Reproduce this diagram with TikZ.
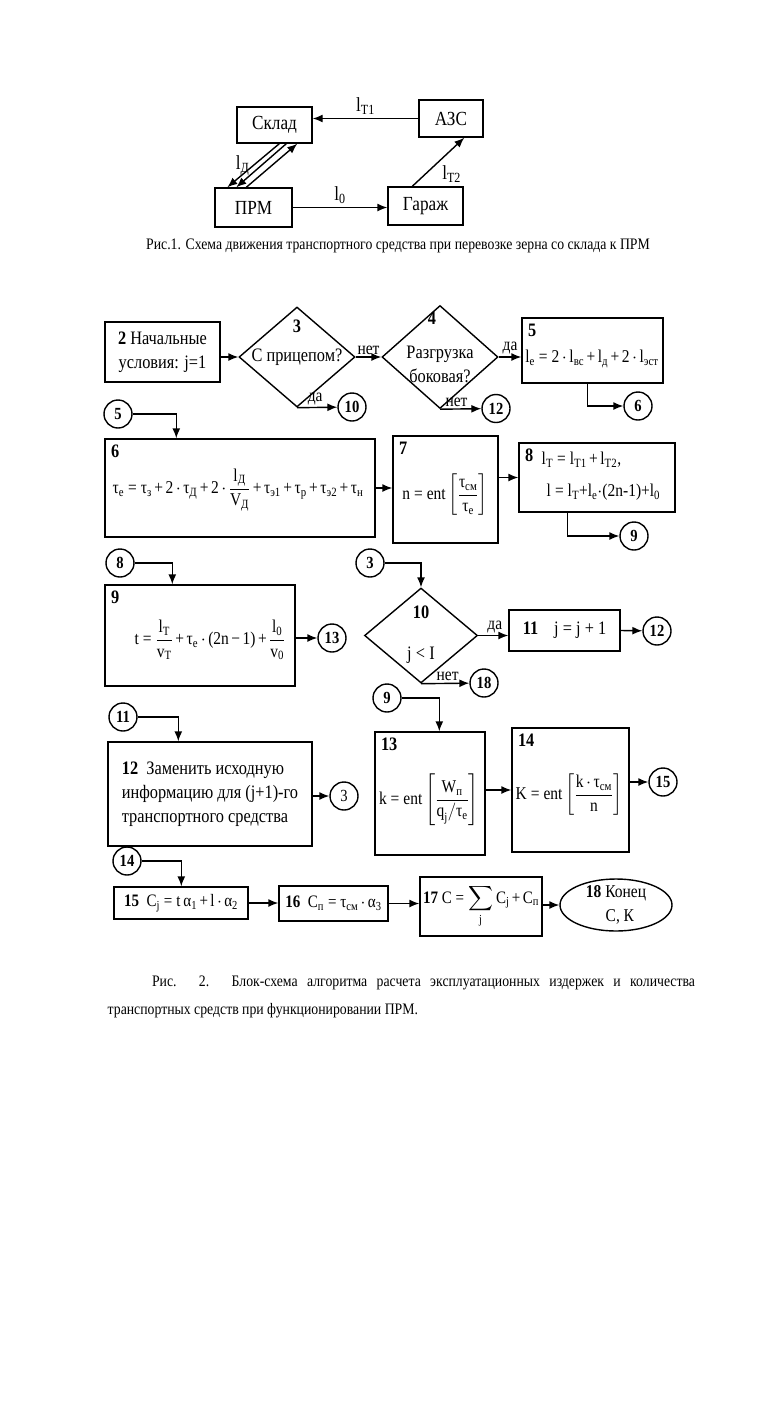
\RequirePackage{fix-cm}
\documentclass[tikz,border=0pt]{standalone}
\usepackage{amsmath}
\usepackage{fontspec}
\setmainfont{Liberation Serif}[FakeStretch=0.86]
\usetikzlibrary{shapes.geometric,arrows.meta}

\newcommand{\ix}[2]{\text{#1}_{\text{#2}}}
\newcommand{\tv}[1]{\text{τ}_{\text{#1}}}
\newcommand{\pls}{\mathbin{\text{+}}}
\newcommand{\mns}{\mathbin{\text{−}}}
\newcommand{\eqs}{\mathrel{\text{=}}}
\thickmuskip=4mu
\medmuskip=2.5mu

\begin{document}
\begin{tikzpicture}[x=1pt,y=-1pt,>={Latex[length=10pt,width=8pt]},line width=1.4pt,
    fig/.style={draw, inner sep=0pt, font=\fontsize{20}{24}\selectfont},
    blk/.style={draw, inner sep=0pt, font=\fontsize{19}{24}\selectfont},
    dia/.style={draw, diamond, inner sep=0pt},
    con/.style={draw, circle, minimum size=28pt, inner sep=0pt, font=\fontsize{17}{20}\selectfont\bfseries},
    num/.style={anchor=north west, inner sep=6pt, font=\fontsize{19}{24}\selectfont\bfseries},
    txt/.style={inner sep=1pt, font=\fontsize{19}{24}\selectfont},
    fml/.style={inner sep=1pt, font=\fontsize{18}{22}\selectfont},
    lab/.style={inner sep=2pt, font=\fontsize{18}{20}\selectfont},
    capt/.style={inner sep=0pt, font=\fontsize{16}{20}\selectfont}]
  \useasboundingbox (0,0) rectangle (756,1403);

  % Рис. 1
  \node (skl) [fig, minimum width=75, minimum height=36] at (274.5,125) {Склад};
  \node (azs) [fig, minimum width=64, minimum height=37] at (451,118.5) {АЗС};
  \node (prm) [fig, minimum width=77, minimum height=39] at (253.5,207.5) {ПРМ};
  \node (gar) [fig, minimum width=75, minimum height=38] at (425.5,206) {Гараж};
  \draw[->] (azs.west) -- node[above, font=\fontsize{20}{24}\selectfont]{$\ix{l}{Т1}$} (azs.west -| skl.east);
  \draw[->] (prm.east) -- node[above, font=\fontsize{20}{24}\selectfont]{$\ix{l}{0}$} (prm.east -| gar.west);
  \draw[->] ([xshift=25]gar.north west) -- node[below right, font=\fontsize{20}{24}\selectfont]{$\ix{l}{Т2}$} ([xshift=46]azs.south west);
  \draw[->] ([xshift=43]skl.south west) -- node[left, font=\fontsize{20}{24}\selectfont]{$\ix{l}{Д}$} ([xshift=13]prm.north west);
  \draw[->] ([xshift=50]skl.south west) -- ([xshift=22]prm.north west);
  \draw[->] ([xshift=32]prm.north west) -- ([xshift=61]skl.south west);
  \node (cap1) [capt] at (398,246) {Рис.1. Схема движения транспортного средства при перевозке зерна со склада к ПРМ};

  % Рис. 2
  \node (b2) [blk, minimum width=115, minimum height=60, align=center] at (162.5,352) {\textbf{2} Начальные\\условия: j=1};
  \node (d3) [dia, minimum width=116, minimum height=100] at (297,357) {};
  \node [txt] at (297,326) {\textbf{3}};
  \node [txt] at (297,357) {С прицепом?};
  \node (d4) [dia, minimum width=116, minimum height=103] at (440,357) {};
  \node [txt] at (432,318) {\textbf{4}};
  \node [txt, align=center] at (440,364) {Разгрузка\\боковая?};
  \node (b5) [blk, minimum width=141, minimum height=65] at (592.5,350.5) {};
  \node [num] at (b5.north west) {5};
  \node [fml] at (592,359) {$\ix{l}{е} \eqs \text{2}\cdot\ix{l}{вс} \pls \ix{l}{д} \pls \text{2}\cdot\ix{l}{эст}$};
  \node (c10) [con] at (352,407) {10};
  \node (c12a) [con] at (496,408.5) {12};
  \node (c6) [con] at (638,406) {6};
  \draw[->] (d3.west -| b2.east) -- (d3.west);
  \draw[->] (d3.east) -- node[lab, above]{нет} (d4.west);
  \draw[->] (d4.east) -- node[lab, above]{да} (d4.east -| b5.west);
  \draw[->] (d3.south) -- node[lab, above, pos=0.45]{да} (c10);
  \draw[->] (d4.south) -- node[lab, above, pos=0.4]{нет} (c12a);
  \draw[->] ([xshift=66]b5.south west) |- (c6);

  \node (c5) [con] at (118,414) {5};
  \node (b6) [blk, minimum width=270, minimum height=98] at (240,488) {};
  \node [num] at (b6.north west) {6};
  \node [fml] at (238,490) {$\tv{е} \eqs \tv{з} \pls \text{2}\cdot\tv{Д} \pls \text{2}\cdot\dfrac{\ix{l}{Д}}{\ix{V}{Д}} \pls \tv{э1} \pls \tv{р} \pls \tv{э2} \pls \tv{н}$};
  \draw[->] (c5) -| ([xshift=72]b6.north west);
  \node (b7) [blk, minimum width=105, minimum height=107] at (445.5,489.5) {};
  \node [num] at (b7.north west) {7};
  \node [fml] at (445,495) {$\text{n} \eqs \text{ent}\left[\dfrac{\tv{см}}{\tv{е}}\right]$};
  \draw[->] (b6.east) -- (b6.east -| b7.west);
  \node (b8) [blk, minimum width=156, minimum height=69] at (597,477.5) {};
  \node [num] at (b8.north west) {8};
  \node [fml, anchor=west] at (540,460) {$\ix{l}{Т} \eqs \ix{l}{Т1} \pls \ix{l}{Т2}\text{,}$};
  \node [fml, anchor=west] at (545,492) {$\text{l} \eqs \ix{l}{Т}\text{+}\ix{l}{е}{\cdot}\text{(2n-1)+}\ix{l}{0}$};
  \draw[->] (b7.east |- b8.west) -- (b8.west);
  \node (c9a) [con] at (634,536) {9};
  \draw[->] ([xshift=49]b8.south west) |- (c9a);

  \node (c8) [con] at (120,563) {8};
  \node (b9) [blk, minimum width=190, minimum height=101] at (200,635.5) {};
  \node [num] at (b9.north west) {9};
  \node [fml] at (210,640) {$\text{t} \eqs \dfrac{\ix{l}{Т}}{\ix{v}{Т}} \pls \tv{е}\cdot\text{(2n} \mns \text{1)} \pls \dfrac{\ix{l}{0}}{\ix{v}{0}}$};
  \draw[->] (c8) -| ([xshift=68]b9.north west);
  \node (c13a) [con] at (332,638) {13};
  \draw[->] (c13a -| b9.east) -- (c13a);
  \node (c3a) [con] at (370,563) {3};
  \node (d10) [dia, minimum width=113, minimum height=95] at (421,635.5) {};
  \node [txt] at (421,612) {\textbf{10}};
  \node [txt] at (421,655) {$\text{j} \mathrel{\text{<}} \text{I}$};
  \draw[->] (c3a) -| (d10.north);
  \node (b11) [blk, minimum width=111, minimum height=41] at (564.5,630.5) {\textbf{11}\hspace{16pt}j = j + 1};
  \draw[->] (d10.east) -- node[lab, above, pos=0.55]{да} (d10.east -| b11.west);
  \node (c12b) [con] at (657,631) {12};
  \draw[->] (b11.east) -- (c12b);
  \node (c18) [con] at (484,683) {18};
  \draw[->] (d10.south) -- node[lab, above, pos=0.55]{нет} (c18);

  \node (c11) [con] at (123,717) {11};
  \node (b12) [blk, minimum width=204, minimum height=104, align=left] at (210,794) {\textbf{12}\ \ Заменить исходную\\информацию для (j+1)-го\\транспортного средства};
  \draw[->] (c11) -| ([xshift=71]b12.north west);
  \node (c3b) [con, font=\fontsize{17}{20}\selectfont] at (344,796) {3};
  \draw[->] (c3b -| b12.east) -- (c3b);
  \node (c9b) [con] at (387,698) {9};
  \node (b13) [blk, minimum width=110, minimum height=123] at (430,793.5) {};
  \node [num] at (b13.north west) {13};
  \node [fml] at (429,800) {$\text{k} \eqs \text{ent}\left[\dfrac{\ix{W}{п}}{\ix{q}{j}/\tv{е}}\right]$};
  \draw[->] (c9b) -| ([xshift=65]b13.north west);
  \node (b14) [blk, minimum width=117, minimum height=124] at (570.5,790) {};
  \node [num] at (b14.north west) {14};
  \node [fml] at (569,795) {$\text{K} \eqs \text{ent}\left[\dfrac{\text{k}\cdot\tv{см}}{\text{n}}\right]$};
  \draw[->] (b14.west -| b13.east) -- (b14.west);
  \node (c15) [con] at (663,782) {15};
  \draw[->] (c15 -| b14.east) -- (c15);

  \node (c14) [con] at (127,861) {14};
  \node (b15) [blk, minimum width=134, minimum height=32, font=\fontsize{17.5}{22}\selectfont] at (181,903) {\textbf{15}\ \ $\ix{C}{j} \eqs \text{t}\,\ix{α}{1} \pls \text{l}\cdot\ix{α}{2}$};
  \draw[->] (c14) -| ([xshift=68]b15.north west);
  \node (b16) [blk, minimum width=109, minimum height=35, font=\fontsize{17.5}{22}\selectfont] at (333.5,903.5) {\textbf{16}\ \ $\ix{C}{п} \eqs \tv{см}\cdot\ix{α}{3}$};
  \node (b17) [blk, minimum width=122, minimum height=59, font=\fontsize{17.5}{22}\selectfont] at (481,906.5) {\textbf{17} $\text{C} \eqs \displaystyle\sum_{\text{j}}\ix{C}{j} \pls \ix{C}{п}$};
  \node (e18) [draw, ellipse, minimum width=112, minimum height=52, inner sep=0pt] at (616,905) {};
  \node [txt, align=center, font=\fontsize{18}{24}\selectfont] at (616,905) {\textbf{18} Конец\\\ \ С, К};
  \draw[->] (b15.east) -- (b15.east -| b16.west);
  \draw[->] (b16.east) -- (b16.east -| b17.west);
  \draw[->] (e18.west -| b17.east) -- (e18.west);
  \node (cap2) [capt] at (423.5,983) {\makebox[543pt][s]{Рис. 2. Блок-схема алгоритма расчета эксплуатационных издержек и количества}};
  \node (cap2b) [capt, anchor=west] at (107,1011) {транспортных средств при функционировании ПРМ.};
\end{tikzpicture}
\end{document}
